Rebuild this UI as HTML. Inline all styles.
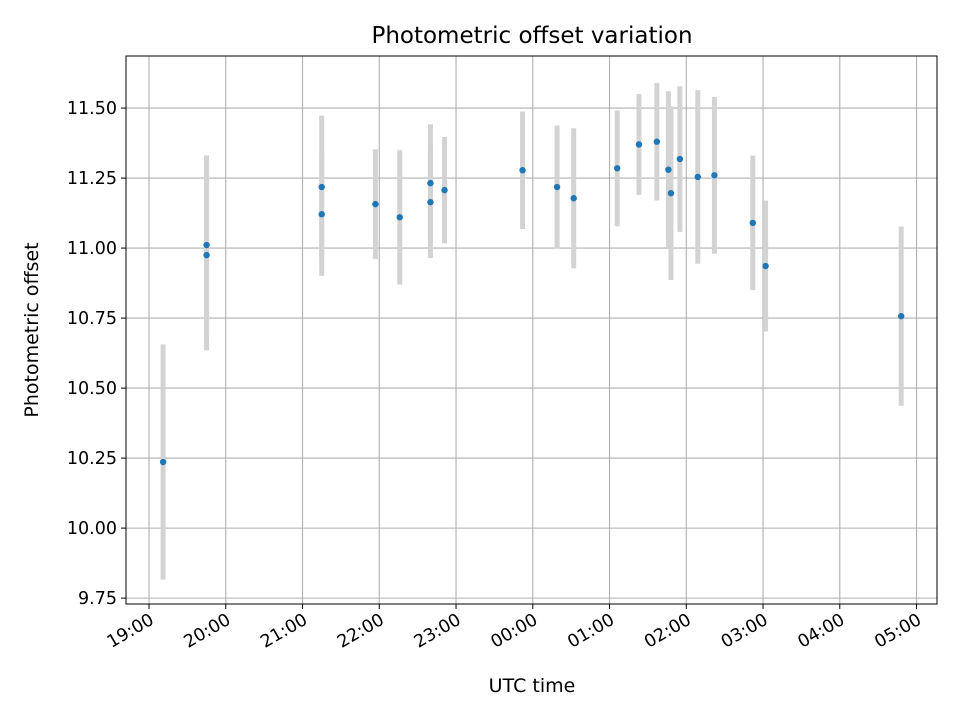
<!DOCTYPE html>
<html><head><meta charset="utf-8"><style>
body{margin:0;background:#fff}
svg{display:block;font-family:"DejaVu Sans","Liberation Sans",sans-serif}
</style></head><body>
<svg id="chart" width="960" height="720">
<text x="532" y="43" style="font-size:23px" text-anchor="middle">Photometric offset variation</text>
<g id="grid"></g><g id="bars"></g><g id="pts"></g><g id="axes"></g>
<text x="532" y="692" style="font-size:19px" text-anchor="middle">UTC time</text>
<text transform="translate(38,330) rotate(-90)" style="font-size:19px" text-anchor="middle">Photometric offset</text>
</svg>
<script>
// minutes since 19:00 UTC
const times=[11,45,45,135,135,177,196,220,220,231,292,319,332,366,383,397,406,408,415,429,442,472,482,588];
const offsets=[10.236,11.011,10.975,11.218,11.121,11.157,11.11,11.232,11.164,11.207,11.278,11.218,11.178,11.285,11.37,11.38,11.28,11.196,11.318,11.254,11.26,11.09,10.936,10.757];
const errors=[0.42,0.32,0.34,0.255,0.22,0.196,0.24,0.21,0.2,0.19,0.21,0.22,0.25,0.207,0.18,0.21,0.28,0.31,0.26,0.31,0.28,0.24,0.234,0.32];
const yTicks=[9.75,10.0,10.25,10.5,10.75,11.0,11.25,11.5];
const xTickLabels=["19:00","20:00","21:00","22:00","23:00","00:00","01:00","02:00","03:00","04:00","05:00"];
const L=126,R=937,T=56,B=604;
const xMin=-18,xMax=616,yMin=9.729,yMax=11.686;
const xs=m=>L+(m-xMin)/(xMax-xMin)*(R-L);
const ys=v=>B-(v-yMin)/(yMax-yMin)*(B-T);
const NS="http://www.w3.org/2000/svg";
function mk(p,t,a){const e=document.createElementNS(NS,t);for(const k in a)e.setAttribute(k,a[k]);p.appendChild(e);return e;}
const grid=document.getElementById('grid'),bars=document.getElementById('bars'),pts=document.getElementById('pts'),axes=document.getElementById('axes');
yTicks.forEach(v=>{const y=ys(v);
const g=mk(grid,'line',{x1:L,x2:R,y1:y,y2:y,stroke:'#b0b0b0','stroke-width':1.1});


const tk=mk(axes,'line',{x1:L-5,x2:L,y1:y,y2:y,stroke:'#000','stroke-width':1});


const t=mk(axes,'text',{x:L-9,y:y+6,style:'font-size:17.5px','text-anchor':'end'});t.textContent=v.toFixed(2);


});
xTickLabels.forEach((lab,i)=>{const x=xs(i*60);
const g=mk(grid,'line',{x1:x,x2:x,y1:T,y2:B,stroke:'#b0b0b0','stroke-width':1.1});


const tk=mk(axes,'line',{x1:x,x2:x,y1:B,y2:B+5,stroke:'#000','stroke-width':1});


const t=mk(axes,'text',{transform:`translate(${x+6},${B+19}) rotate(-30)`,style:'font-size:17.5px','text-anchor':'end'});t.textContent=lab;


});
const fr=mk(axes,'rect',{x:L,y:T,width:R-L,height:B-T,fill:'none',stroke:'#000','stroke-width':1});


times.forEach((m,i)=>{const x=xs(m);
const b=mk(bars,'line',{x1:x,x2:x,y1:ys(offsets[i]+errors[i]),y2:ys(offsets[i]-errors[i]),stroke:'#d3d3d3','stroke-width':5});


const c=mk(pts,'circle',{cx:x,cy:ys(offsets[i]),r:3.2,fill:'#1f77b4'});


});
</script>
</body></html>
